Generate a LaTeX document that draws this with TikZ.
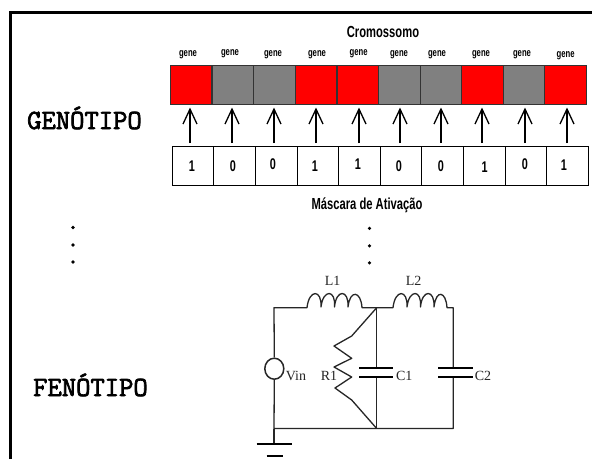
\documentclass[tikz,border=0pt]{standalone}
\usepackage{fontspec}
\usetikzlibrary{arrows.meta,shapes.geometric}
\setmainfont{Liberation Serif}
\newfontfamily\narrowsans[FakeStretch=0.7]{Liberation Sans}
\newfontfamily\slabmono[FakeBold=2.6]{Latin Modern Mono}
\tikzset{
  x=1pt,y=-1pt,
  gcell/.style={draw=black!80,line width=1.2pt,inner sep=0pt,outer sep=0pt,minimum height=39pt},
  mcell/.style={draw=black,line width=.9pt,inner sep=0pt,outer sep=0pt,minimum height=38.5pt},
  genelabel/.style={inner sep=0pt,font=\narrowsans\bfseries\fontsize{11}{12}\selectfont},
  bitlabel/.style={inner sep=0pt,font=\narrowsans\bfseries\fontsize{15.5}{16}\selectfont},
  caption/.style={inner sep=0pt,font=\narrowsans\bfseries\fontsize{16}{18}\selectfont},
  phase/.style={inner sep=0pt,anchor=base west,font=\slabmono\fontsize{27.8}{30}\selectfont},
  circuitlabel/.style={inner sep=0pt,font=\fontsize{14}{15}\selectfont,text=black!85},
  pointer/.style={line width=1.7pt,-{Straight Barb[length=15pt,width=14pt,line width=1.3pt]}},
  wire/.style={line width=1.3pt,black!85,line join=round},
  plate/.style={line width=2pt,black},
  dotmark/.style={circle,fill=black,inner sep=0pt,minimum size=3.6pt}
}
\definecolor{genered}{RGB}{255,0,0}
\definecolor{genegray}{RGB}{128,128,128}
\begin{document}
\begin{tikzpicture}
\useasboundingbox (0,0) rectangle (592,459);
\fill[white] (0,0) rectangle (592,459);
% frame
\draw[line width=3pt] (10.5,459) -- (10.5,12.5) -- (592,12.5);
% chromosome
\foreach \n/\a/\b/\c in {1/170.5/212/genered,2/212/253.5/genegray,3/253.5/295.5/genegray,4/295.5/337/genered,5/337/378.7/genered,6/378.7/420.3/genegray,7/420.3/461.3/genegray,8/461.3/503.7/genered,9/503.7/544.7/genegray,10/544.7/586.3/genered}
  \node[gcell,fill=\c,minimum width={(\b-\a)*1pt},anchor=center] (g\n) at ({(\a+\b)/2},85) {};
% mask
\foreach \n/\a/\b in {1/172.5/213.5,2/213.5/255,3/255/297,4/297/338.7,5/338.7/380.3,6/380.3/421.3,7/421.3/463.7,8/463.7/505,9/505/546.3,10/546.3/588}
  \node[mcell,minimum width={(\b-\a)*1pt}] (m\n) at ({(\a+\b)/2},165.7) {};
\foreach \n/\x/\t/\ty in {1/192/1/166.5,2/233/0/166.5,3/273/0/164,4/315/1/166.5,5/358/1/164,6/399/0/166.5,7/441/0/166.5,8/484.7/1/167,9/525/0/164,10/564/1/165}
  \node[bitlabel] (b\n) at (\x,\ty) {\t};
% gene labels
\foreach \n/\x/\y in {1/188/54.5,2/230/53.5,3/273/54.5,4/317/54.5,5/358.7/53.5,6/399/54.5,7/437/54.5,8/481/54.5,9/522/54.5,10/565.7/55.5}
  \node[genelabel] (l\n) at (\x,\y) {gene};
% arrows
\foreach \n/\x in {1/190,2/232,3/274,4/316,5/359,6/400,7/441,8/482,9/525,10/567}{
  \coordinate (t\n) at (\x,143);
  \coordinate (h\n) at (\x,107.5);
  \draw[pointer] (t\n) -- (h\n);
}
\node[caption] (crom) at (383,32) {Cromossomo};
\node[caption] (masc) at (367,205.5) {Máscara de Ativação};
\node[phase] (geno) at (27,129) {GENÓTIPO};
\node[phase] (feno) at (33,396) {FENÓTIPO};
% ellipsis dots
\foreach \n/\y in {1/227.5,2/245,3/262}{
  \node[dotmark] (dl\n) at (73,\y) {};
  \node[dotmark] (dr\n) at (369.5,\y+.8) {};
}
% circuit
\coordinate (tl) at (274,307.7);
\coordinate (tm) at (376.7,307.7);
\coordinate (tr) at (453.3,307.7);
\coordinate (bl) at (274,428.5);
\coordinate (bm) at (376.7,428.5);
\coordinate (br) at (453.3,428.5);
\coordinate (gnd) at (274,443.7);
\node[draw=black!85,line width=1.5pt,ellipse,minimum width=19pt,minimum height=21pt,inner sep=0pt] (vin) at (274.3,368.7) {};
\draw[wire] (vin.north) -- (tl) -- (307,307.7)
  .. controls (309,289) and (322,289) .. (321,307)
  .. controls (323,289) and (336,289) .. (334.5,307)
  .. controls (336,289) and (349,289) .. (348,307)
  .. controls (350,289) and (361,291) .. (362,307.7) -- (tm) -- (393,307.7)
  .. controls (395,289) and (408,289) .. (407,307)
  .. controls (409,289) and (422,289) .. (420.5,307)
  .. controls (422,289) and (435,289) .. (434,307)
  .. controls (436,289) and (446,291) .. (447,307.7) -- (tr) -- (453.3,367.7);
\draw[wire] (453.3,377) -- (br) -- (bm) -- (bl) -- (vin.south);
\draw[wire] (tm) -- (376.7,367.7);
\draw[wire] (376.7,377) -- (bm);
\draw[plate] (359,367.7) -- (393.3,367.7);
\draw[plate] (359,377) -- (393.3,377);
\draw[plate] (438,367.7) -- (472.7,367.7);
\draw[plate] (438,377) -- (472.7,377);
\draw[wire] (tm) -- (351.7,336) -- (334,346) -- (351.7,358.3) -- (334,367) -- (351.7,377) -- (335,388) -- (351.7,400) -- (bm);
\draw[wire] (bl) -- (gnd);
\draw[plate] (256.7,443.7) -- (291.7,443.7);
\draw[plate] (266.7,455.7) -- (283.3,455.7);
\node[circuitlabel] (nl1) at (332.7,280.7) {L1};
\node[circuitlabel] (nl2) at (413.7,280.7) {L2};
\node[circuitlabel] (nv) at (296,376) {Vin};
\node[circuitlabel] (nr) at (329,376) {R1};
\node[circuitlabel] (nc1) at (404.3,376) {C1};
\node[circuitlabel] (nc2) at (483,376) {C2};
\end{tikzpicture}
\end{document}
